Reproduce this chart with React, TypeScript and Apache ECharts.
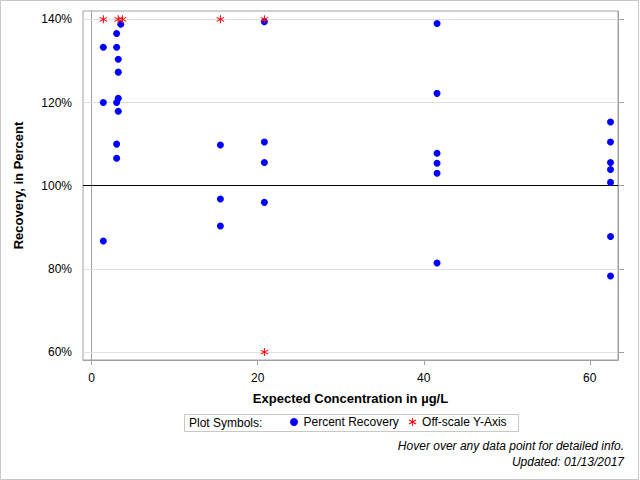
import React, { useEffect, useRef } from "react";
import * as echarts from "echarts";

// ---- Data ----
const recoveryX = [
  1.4, 1.4, 1.4,
  3.0, 3.0, 3.0, 3.0, 3.0,
  3.2, 3.2, 3.2, 3.2,
  3.5,
  15.5, 15.5, 15.5,
  20.8, 20.8, 20.8, 20.8,
  41.6, 41.6, 41.6, 41.6, 41.6, 41.6,
  62.5, 62.5, 62.5, 62.5, 62.5, 62.5, 62.5,
];
const recoveryY = [
  133.3, 120.0, 86.7,
  136.6, 133.3, 120.0, 110.0, 106.6,
  130.4, 127.3, 121.0, 117.9,
  138.8,
  109.8, 96.8, 90.3,
  139.4, 110.5, 105.6, 96.0,
  139.0, 122.2, 107.8, 105.4, 103.0, 81.4,
  115.3, 110.5, 105.6, 103.9, 100.8, 87.8, 78.3,
];
const offscaleX = [1.4, 3.2, 3.7, 15.5, 20.8, 20.8];
const offscaleY = [140, 140, 140, 140, 140, 60];

const xTicks = [0, 20, 40, 60];
const yTicks = [60, 80, 100, 120, 140];
const gridLines = [60, 80, 120, 140];
const referenceLine = 100;

const seriesNames = ["Percent Recovery", "Off-scale Y-Axis"];
const footerLines = [
  "Hover over any data point for detailed info.",
  "Updated: 01/13/2017",
];

const FONT = '"Liberation Sans", Arial, sans-serif';

// asterisk symbol (vertical bar + two diagonals), filled polygons, same winding
const STAR =
  "path://M4.4,0L5.6,0L5.6,10L4.4,10Z" +
  "M0.37,3.02L0.97,1.98L9.63,6.98L9.03,8.02Z" +
  "M0.97,8.02L0.37,6.98L9.03,1.98L9.63,3.02Z";

export default function App() {
  const ref = useRef<HTMLDivElement>(null);

  useEffect(() => {
    if (!ref.current) return;
    const chart = echarts.init(ref.current, undefined, { renderer: "svg" });

    const dots = recoveryX.map((x, i) => [x, recoveryY[i]]);
    const stars = offscaleX.map((x, i) => [x, offscaleY[i]]);

    const option: any = {
      animation: false,
      backgroundColor: "#ffffff",
      textStyle: { fontFamily: FONT },
      grid: {
        left: 83,
        right: 22,
        top: 11,
        bottom: 120,
        containLabel: false,
        outerBoundsMode: "none",
        show: true,
        borderColor: "#a0a0a0",
        borderWidth: 1,
        backgroundColor: "transparent",
      },
      xAxis: {
        type: "value",
        min: -1.05,
        max: 63.4,
        name: "Expected Concentration in µg/L",
        nameLocation: "middle",
        nameGap: 32,
        nameTextStyle: { fontFamily: FONT, fontSize: 13, fontWeight: "bold", color: "#000" },
        axisLine: { show: true, lineStyle: { color: "#a0a0a0" } },
        axisTick: { show: true, length: 5, customValues: xTicks, lineStyle: { color: "#a0a0a0" } },
        axisLabel: { customValues: xTicks, margin: 12, fontSize: 12, color: "#000", fontFamily: FONT },
        splitLine: { show: false },
      },
      yAxis: [
        {
          type: "value",
          min: 58.1,
          max: 142,
          name: "Recovery, in Percent",
          nameLocation: "middle",
          nameGap: 58,
          nameRotate: 90,
          nameTextStyle: { fontFamily: FONT, fontSize: 13, fontWeight: "bold", color: "#000" },
          axisLine: { show: true, lineStyle: { color: "#a0a0a0" } },
          axisTick: { show: true, length: 6, customValues: yTicks, lineStyle: { color: "#a0a0a0" } },
          axisLabel: {
            customValues: yTicks,
            margin: 11,
            fontSize: 12,
            color: "#000",
            fontFamily: FONT,
            formatter: (v: number) => `${v}%`,
          },
          splitLine: { show: false },
        },
        {
          type: "value",
          position: "right",
          min: 58.1,
          max: 142,
          axisLine: { show: true, lineStyle: { color: "#a0a0a0" } },
          axisTick: { show: true, length: 6, customValues: yTicks, lineStyle: { color: "#a0a0a0" } },
          axisLabel: { show: false },
          splitLine: { show: false },
        },
      ],
      legend: {
        left: 290,
        top: 416,
        padding: 0,
        itemWidth: 9,
        itemHeight: 8,
        itemGap: 10,
        selectedMode: false,
        textStyle: { fontSize: 12, color: "#000", fontFamily: FONT },
        data: [
          { name: seriesNames[0], icon: "circle" },
          { name: seriesNames[1], icon: STAR },
        ],
      },
      series: [
        {
          name: seriesNames[0],
          type: "scatter",
          symbol: "circle",
          symbolSize: 7,
          itemStyle: { color: "#0000ff", opacity: 1 },
          data: dots,
          z: 3,
          markLine: {
            silent: true,
            symbol: "none",
            z: 1,
            label: { show: false },
            animation: false,
            data: [
              ...gridLines.map((v) => ({ yAxis: v, lineStyle: { color: "#e0e0e0", width: 1, type: "solid" } })),
              { yAxis: referenceLine, lineStyle: { color: "#000000", width: 1, type: "solid" } },
            ],
          },
        },
        {
          name: seriesNames[1],
          type: "scatter",
          symbol: STAR,
          symbolSize: 8,
          itemStyle: { color: "#ff0000", opacity: 1 },
          data: stars,
          z: 4,
        },
      ],
      graphic: [
        {
          type: "rect",
          silent: true,
          shape: { x: 0.5, y: 0.5, width: 638, height: 479 },
          style: { fill: "none", stroke: "#c8c8c8", lineWidth: 1 },
        },
        {
          type: "rect",
          silent: true,
          shape: { x: 184.5, y: 414.5, width: 334, height: 17 },
          style: { fill: "none", stroke: "#c8c8c8", lineWidth: 1 },
        },
        {
          type: "text",
          silent: true,
          left: 189,
          top: 417,
          style: { text: "Plot Symbols:", font: `12px ${FONT}`, fill: "#000" },
        },
        {
          type: "text",
          silent: true,
          right: 16,
          top: 440,
          style: { text: footerLines[0], font: `italic 12px ${FONT}`, fill: "#000", align: "right" },
        },
        {
          type: "text",
          silent: true,
          right: 16,
          top: 456,
          style: { text: footerLines[1], font: `italic 12px ${FONT}`, fill: "#000", align: "right" },
        },
      ],
    };

    chart.setOption(option);
    return () => chart.dispose();
  }, []);

  return (
    <div
      ref={ref}
      style={{ position: "fixed", left: 0, top: 0, width: 640, height: 480 }}
    />
  );
}
